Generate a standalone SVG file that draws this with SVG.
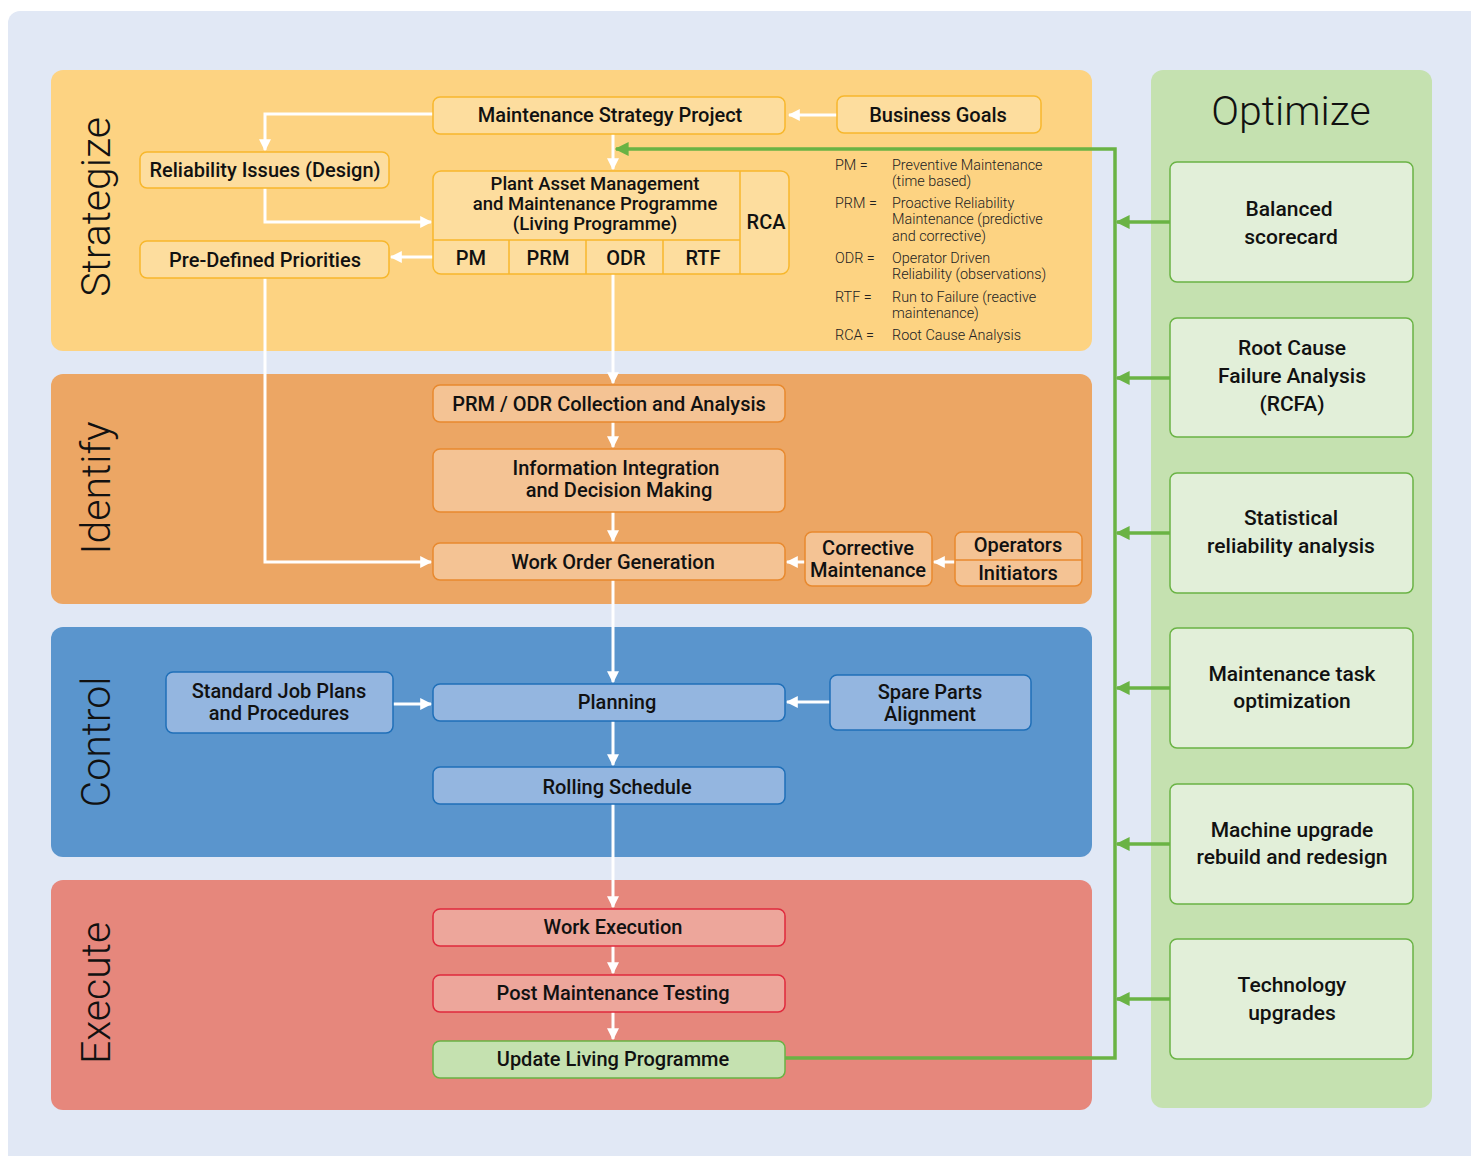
<svg xmlns="http://www.w3.org/2000/svg" width="1471" height="1156" viewBox="0 0 1471 1156">
<defs>
<marker id="aw" viewBox="0 0 10 10" refX="9" refY="5" markerWidth="4" markerHeight="4" orient="auto" markerUnits="strokeWidth"><path d="M0,0 L10,5 L0,10 z" fill="#ffffff"/></marker>
<marker id="ag" viewBox="0 0 10 10" refX="9" refY="5" markerWidth="4" markerHeight="4" orient="auto" markerUnits="strokeWidth"><path d="M0,0 L10,5 L0,10 z" fill="#6ab344"/></marker>
<style>
text{font-family:Roboto,"Liberation Sans",sans-serif;fill:#111;}
.t{font-size:20px;font-weight:500;text-anchor:middle;dominant-baseline:central;}
.ts{font-size:18.5px;font-weight:500;text-anchor:middle;dominant-baseline:central;}
.band{font-size:41px;font-weight:300;text-anchor:middle;dominant-baseline:central;}
.leg{font-size:14.4px;font-weight:300;fill:#222;}
.o{font-size:21px;font-weight:500;text-anchor:middle;dominant-baseline:central;}
.ys{fill:#fddd9e;stroke:#f7b72c;stroke-width:1.5;}
.os{fill:#f4c394;stroke:#e8892e;stroke-width:1.5;}
.bs{fill:#94b6e0;stroke:#1f6fb8;stroke-width:1.5;}
.rs{fill:#eda69b;stroke:#e02a3d;stroke-width:1.5;}
.gs{fill:#c5e1b0;stroke:#6ab344;stroke-width:1.5;}
.og{fill:#e2efd9;stroke:#6ab344;stroke-width:1.5;}
.wl{fill:none;stroke:#ffffff;stroke-width:3;marker-end:url(#aw);}
.gl{fill:none;stroke:#6ab344;stroke-width:3.5;marker-end:url(#ag);}
</style>
</defs>
<rect x="8" y="11" width="1500" height="1200" rx="12" fill="#e1e8f5"/>

<g id="band-strategize"><rect x="51" y="70" width="1041" height="281" rx="12" fill="#fdd382"/><text class="band" transform="translate(96,207) rotate(-90)">Strategize</text></g>
<g id="band-identify"><rect x="51" y="374" width="1041" height="230" rx="12" fill="#eca664"/><text class="band" transform="translate(96,488) rotate(-90)">Identify</text></g>
<g id="band-control"><rect x="51" y="627" width="1041" height="230" rx="12" fill="#5a95cd"/><text class="band" transform="translate(96,742) rotate(-90)">Control</text></g>
<g id="band-execute"><rect x="51" y="880" width="1041" height="230" rx="12" fill="#e6877c"/><text class="band" transform="translate(96,993) rotate(-90)">Execute</text></g>
<g id="band-optimize"><rect x="1151" y="70" width="281" height="1038" rx="12" fill="#c5e1b0"/><text class="band" x="1291" y="111">Optimize</text></g>

<g id="connectors">
<polyline class="wl" points="433,114 265,114 265,150"/>
<polyline class="wl" points="837,115 789,115"/>
<polyline class="wl" points="613,134 613,169"/>
<polyline class="wl" points="265,188 265,222 431,222"/>
<polyline class="wl" points="433,257 391,257"/>
<polyline class="wl" points="265,278 265,562 431,562"/>
<polyline class="wl" points="613,274 613,383"/>
<polyline class="wl" points="613,422 613,447"/>
<polyline class="wl" points="613,512 613,541"/>
<polyline class="wl" points="805,562 787,562"/>
<polyline class="wl" points="955,562 934,562"/>
<polyline class="wl" points="613,580 613,682"/>
<polyline class="wl" points="393,704 431,704"/>
<polyline class="wl" points="830,702 787,702"/>
<polyline class="wl" points="613,721 613,765"/>
<polyline class="wl" points="613,804 613,907"/>
<polyline class="wl" points="613,946 613,973"/>
<polyline class="wl" points="613,1012 613,1039"/>
<polyline class="gl" points="785,1058 1115,1058 1115,149 616,149"/>
<line class="gl" x1="1170" y1="222" x2="1117" y2="222"/>
<line class="gl" x1="1170" y1="378" x2="1117" y2="378"/>
<line class="gl" x1="1170" y1="533" x2="1117" y2="533"/>
<line class="gl" x1="1170" y1="688" x2="1117" y2="688"/>
<line class="gl" x1="1170" y1="844" x2="1117" y2="844"/>
<line class="gl" x1="1170" y1="999" x2="1117" y2="999"/>
</g>

<g id="n-msp"><rect class="ys" x="433" y="97" width="352" height="37" rx="7"/><text class="t" x="610" y="115">Maintenance Strategy Project</text></g>
<g id="n-bg"><rect class="ys" x="837" y="96" width="204" height="37" rx="7"/><text class="t" x="938" y="115">Business Goals</text></g>
<g id="n-rel"><rect class="ys" x="140" y="152" width="249" height="36" rx="7"/><text class="t" x="265" y="170">Reliability Issues (Design)</text></g>
<g id="n-pdp"><rect class="ys" x="140" y="241" width="249" height="37" rx="7"/><text class="t" x="265" y="260">Pre-Defined Priorities</text></g>
<g id="n-pam">
<rect class="ys" x="433" y="171" width="356" height="103" rx="8"/>
<path d="M740,171 V274 M433,240 H740 M509,240 V274 M586,240 V274 M663,240 V274" stroke="#f7b72c" stroke-width="1.5" fill="none"/>
<text class="ts" x="595" y="184">Plant Asset Management</text>
<text class="ts" x="595" y="204">and Maintenance Programme</text>
<text class="ts" x="595" y="224">(Living Programme)</text>
<text class="t" x="766" y="222">RCA</text>
<text class="t" x="471" y="258">PM</text>
<text class="t" x="548" y="258">PRM</text>
<text class="t" x="626" y="258">ODR</text>
<text class="t" x="703" y="258">RTF</text>
</g>
<g id="legend">
<text class="leg" x="835" y="170">PM =</text><text class="leg" x="892" y="170">Preventive Maintenance</text><text class="leg" x="892" y="186">(time based)</text>
<text class="leg" x="835" y="208">PRM =</text><text class="leg" x="892" y="208">Proactive Reliability</text><text class="leg" x="892" y="224">Maintenance (predictive</text><text class="leg" x="892" y="241">and corrective)</text>
<text class="leg" x="835" y="263">ODR =</text><text class="leg" x="892" y="263">Operator Driven</text><text class="leg" x="892" y="279">Reliability (observations)</text>
<text class="leg" x="835" y="302">RTF =</text><text class="leg" x="892" y="302">Run to Failure (reactive</text><text class="leg" x="892" y="318">maintenance)</text>
<text class="leg" x="835" y="340">RCA =</text><text class="leg" x="892" y="340">Root Cause Analysis</text>
</g>

<g id="n-prm"><rect class="os" x="433" y="385" width="352" height="37" rx="7"/><text class="t" x="609" y="404">PRM / ODR Collection and Analysis</text></g>
<g id="n-iid"><rect class="os" x="433" y="449" width="352" height="63" rx="7"/><text class="t" x="616" y="468">Information Integration</text><text class="t" x="619" y="490">and Decision Making</text></g>
<g id="n-wog"><rect class="os" x="433" y="543" width="352" height="37" rx="7"/><text class="t" x="613" y="562">Work Order Generation</text></g>
<g id="n-cm"><rect class="os" x="805" y="532" width="127" height="54" rx="7"/><text class="t" x="868" y="548">Corrective</text><text class="t" x="868" y="570">Maintenance</text></g>
<g id="n-oi"><rect class="os" x="955" y="532" width="127" height="54" rx="7"/><line x1="955" y1="560" x2="1082" y2="560" stroke="#e8892e" stroke-width="1.5"/><text class="t" x="1018" y="545">Operators</text><text class="t" x="1018" y="573">Initiators</text></g>

<g id="n-sjp"><rect class="bs" x="166" y="672" width="227" height="61" rx="7"/><text class="t" x="279" y="691">Standard Job Plans</text><text class="t" x="279" y="713">and Procedures</text></g>
<g id="n-plan"><rect class="bs" x="433" y="684" width="352" height="37" rx="7"/><text class="t" x="617" y="702">Planning</text></g>
<g id="n-spa"><rect class="bs" x="830" y="675" width="201" height="55" rx="7"/><text class="t" x="930" y="692">Spare Parts</text><text class="t" x="930" y="714">Alignment</text></g>
<g id="n-rs"><rect class="bs" x="433" y="767" width="352" height="37" rx="7"/><text class="t" x="617" y="787">Rolling Schedule</text></g>

<g id="n-we"><rect class="rs" x="433" y="909" width="352" height="37" rx="7"/><text class="t" x="613" y="927">Work Execution</text></g>
<g id="n-pmt"><rect class="rs" x="433" y="975" width="352" height="37" rx="7"/><text class="t" x="613" y="993">Post Maintenance Testing</text></g>
<g id="n-ulp"><rect class="gs" x="433" y="1041" width="352" height="37" rx="7"/><text class="t" x="613" y="1059">Update Living Programme</text></g>

<g id="n-o1"><rect class="og" x="1170" y="162" width="243" height="120" rx="7"/><text class="o" x="1289" y="209">Balanced</text><text class="o" x="1291" y="237">scorecard</text></g>
<g id="n-o2"><rect class="og" x="1170" y="318" width="243" height="119" rx="7"/><text class="o" x="1292" y="348">Root Cause</text><text class="o" x="1292" y="376">Failure Analysis</text><text class="o" x="1292" y="404">(RCFA)</text></g>
<g id="n-o3"><rect class="og" x="1170" y="473" width="243" height="120" rx="7"/><text class="o" x="1291" y="518">Statistical</text><text class="o" x="1291" y="546">reliability analysis</text></g>
<g id="n-o4"><rect class="og" x="1170" y="628" width="243" height="120" rx="7"/><text class="o" x="1292" y="674">Maintenance task</text><text class="o" x="1292" y="701">optimization</text></g>
<g id="n-o5"><rect class="og" x="1170" y="784" width="243" height="120" rx="7"/><text class="o" x="1292" y="830">Machine upgrade</text><text class="o" x="1292" y="857">rebuild and redesign</text></g>
<g id="n-o6"><rect class="og" x="1170" y="939" width="243" height="120" rx="7"/><text class="o" x="1292" y="985">Technology</text><text class="o" x="1292" y="1013">upgrades</text></g>
</svg>
